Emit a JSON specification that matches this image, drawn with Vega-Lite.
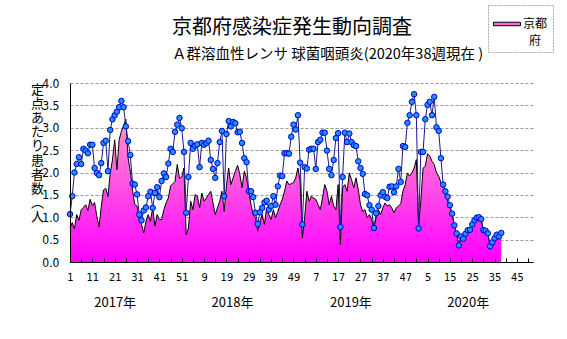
{
  "$schema": "https://vega.github.io/schema/vega-lite/v6.json",
  "width": 463,
  "height": 179,
  "padding": {"left": 70, "top": 83, "right": 34, "bottom": 77},
  "autosize": "none",
  "background": "white",
  "config": {
    "view": {"stroke": null},
    "style": {"guide-label": {"lineHeight": 17}},
    "legend": {"strokeDash": [2, 1], "strokeColor": "#aaaaaa"}
  },
  "title": {
    "text": "京都府感染症発生動向調査",
    "subtitle": "　Ａ群溶血性レンサ 球菌咽頭炎(2020年38週現在 )",
    "anchor": "start",
    "frame": "group",
    "dx": 102,
    "dy": 69,
    "font": "Noto Sans CJK JP",
    "fontSize": 20,
    "fontWeight": "normal",
    "color": "#000000",
    "subtitleFont": "Noto Sans CJK JP",
    "subtitleFontSize": 14.5,
    "subtitleColor": "#000000",
    "subtitlePadding": 10,
    "offset": 12
  },
  "data": {
    "values": [
      {"i":1,"a":0.76,"b":1.07},{"i":2,"a":0.88,"b":1.47},{"i":3,"a":0.74,"b":2.00},{"i":4,"a":1.06,"b":2.19},{"i":5,"a":0.93,"b":2.34},
      {"i":6,"a":1.17,"b":2.19},{"i":7,"a":1.22,"b":2.53},{"i":8,"a":1.28,"b":2.49},{"i":9,"a":1.15,"b":2.43},{"i":10,"a":1.40,"b":2.62},
      {"i":11,"a":1.26,"b":2.62},{"i":12,"a":1.33,"b":2.10},{"i":13,"a":1.02,"b":1.99},{"i":14,"a":0.79,"b":1.94},{"i":15,"a":1.24,"b":2.21},
      {"i":16,"a":1.61,"b":2.66},{"i":17,"a":1.65,"b":2.71},{"i":18,"a":1.46,"b":2.03},{"i":19,"a":1.99,"b":2.95},{"i":20,"a":2.28,"b":3.19},
      {"i":21,"a":2.73,"b":3.28},{"i":22,"a":2.06,"b":3.36},{"i":23,"a":2.73,"b":3.46},{"i":24,"a":2.92,"b":3.60},{"i":25,"a":3.05,"b":3.46},
      {"i":26,"a":3.19,"b":3.03},{"i":27,"a":2.33,"b":2.70},{"i":28,"a":2.03,"b":2.39},{"i":29,"a":1.60,"b":1.75},{"i":30,"a":1.28,"b":1.73},
      {"i":31,"a":1.25,"b":1.51},{"i":32,"a":0.95,"b":1.06},{"i":33,"a":0.84,"b":0.93},{"i":34,"a":0.65,"b":1.15},{"i":35,"a":0.91,"b":1.22},
      {"i":36,"a":1.06,"b":1.47},{"i":37,"a":0.91,"b":1.57},{"i":38,"a":1.21,"b":1.21},{"i":39,"a":0.80,"b":1.54},{"i":40,"a":1.06,"b":1.67},
      {"i":41,"a":0.95,"b":1.45},{"i":42,"a":0.95,"b":1.81},{"i":43,"a":1.17,"b":1.98},{"i":44,"a":1.32,"b":1.90},{"i":45,"a":1.43,"b":2.20},
      {"i":46,"a":1.70,"b":2.53},{"i":47,"a":1.75,"b":2.46},{"i":48,"a":1.80,"b":2.91},{"i":49,"a":2.18,"b":3.07},{"i":50,"a":1.87,"b":3.22},
      {"i":51,"a":1.90,"b":2.99},{"i":52,"a":2.10,"b":2.46},{"i":53,"a":0.61,"b":1.10},{"i":54,"a":0.76,"b":1.90},{"i":55,"a":1.36,"b":2.66},
      {"i":56,"a":1.17,"b":2.53},{"i":57,"a":1.51,"b":2.60},{"i":58,"a":1.47,"b":2.63},{"i":59,"a":1.21,"b":2.12},{"i":60,"a":1.54,"b":2.66},
      {"i":61,"a":1.36,"b":2.62},{"i":62,"a":1.43,"b":2.66},{"i":63,"a":1.51,"b":2.71},{"i":64,"a":1.58,"b":2.28},{"i":65,"a":1.32,"b":2.08},
      {"i":66,"a":1.06,"b":1.88},{"i":67,"a":1.21,"b":2.21},{"i":68,"a":1.36,"b":2.68},{"i":69,"a":1.58,"b":2.93},{"i":70,"a":1.13,"b":1.47},
      {"i":71,"a":1.70,"b":2.86},{"i":72,"a":2.10,"b":3.15},{"i":73,"a":1.73,"b":3.03},{"i":74,"a":1.88,"b":3.13},{"i":75,"a":2.03,"b":3.10},
      {"i":76,"a":2.16,"b":2.90},{"i":77,"a":1.96,"b":2.91},{"i":78,"a":1.66,"b":2.66},{"i":79,"a":2.03,"b":2.32},{"i":80,"a":1.88,"b":2.23},
      {"i":81,"a":1.58,"b":1.58},{"i":82,"a":1.28,"b":1.58},{"i":83,"a":1.06,"b":1.45},{"i":84,"a":0.99,"b":1.10},{"i":85,"a":0.69,"b":0.85},
      {"i":86,"a":0.91,"b":1.11},{"i":87,"a":1.06,"b":1.21},{"i":88,"a":0.84,"b":1.33},{"i":89,"a":1.21,"b":1.37},{"i":90,"a":1.06,"b":1.17},
      {"i":91,"a":0.95,"b":1.25},{"i":92,"a":1.17,"b":1.47},{"i":93,"a":0.99,"b":1.28},{"i":94,"a":1.13,"b":1.69},{"i":95,"a":1.28,"b":1.93},
      {"i":96,"a":1.40,"b":1.92},{"i":97,"a":1.58,"b":2.43},{"i":98,"a":1.81,"b":2.43},{"i":99,"a":1.73,"b":2.42},{"i":100,"a":1.75,"b":2.80},
      {"i":101,"a":1.77,"b":3.07},{"i":102,"a":1.88,"b":2.96},{"i":103,"a":2.10,"b":3.28},{"i":104,"a":1.81,"b":2.22},{"i":105,"a":0.54,"b":0.84},
      {"i":106,"a":0.99,"b":2.12},{"i":107,"a":1.58,"b":2.09},{"i":108,"a":1.36,"b":2.51},{"i":109,"a":1.47,"b":2.53},{"i":110,"a":1.43,"b":2.53},
      {"i":111,"a":1.40,"b":2.08},{"i":112,"a":1.28,"b":2.68},{"i":113,"a":1.17,"b":2.73},{"i":114,"a":1.43,"b":2.89},{"i":115,"a":1.73,"b":2.89},
      {"i":116,"a":1.58,"b":2.49},{"i":117,"a":1.28,"b":2.08},{"i":118,"a":1.47,"b":1.94},{"i":119,"a":1.25,"b":2.28},{"i":120,"a":1.17,"b":2.77},
      {"i":121,"a":1.73,"b":2.88},{"i":122,"a":0.39,"b":0.78},{"i":123,"a":1.66,"b":1.90},{"i":124,"a":1.73,"b":2.89},{"i":125,"a":1.58,"b":2.68},
      {"i":126,"a":1.99,"b":2.87},{"i":127,"a":1.84,"b":2.68},{"i":128,"a":1.66,"b":2.61},{"i":129,"a":1.88,"b":2.59},{"i":130,"a":1.62,"b":2.25},
      {"i":131,"a":1.28,"b":2.10},{"i":132,"a":1.13,"b":1.97},{"i":133,"a":1.17,"b":1.52},{"i":134,"a":0.99,"b":1.49},{"i":135,"a":1.06,"b":1.27},
      {"i":136,"a":0.95,"b":1.17},{"i":137,"a":0.76,"b":0.76},{"i":138,"a":0.99,"b":1.09},{"i":139,"a":1.17,"b":1.25},{"i":140,"a":1.06,"b":1.49},
      {"i":141,"a":1.21,"b":1.56},{"i":142,"a":1.32,"b":1.46},{"i":143,"a":1.25,"b":1.43},{"i":144,"a":1.28,"b":1.68},{"i":145,"a":1.21,"b":1.69},
      {"i":146,"a":1.10,"b":1.56},{"i":147,"a":1.21,"b":1.69},{"i":148,"a":1.25,"b":2.08},{"i":149,"a":1.30,"b":1.79},{"i":150,"a":1.58,"b":2.59},
      {"i":151,"a":1.73,"b":2.57},{"i":152,"a":1.99,"b":3.11},{"i":153,"a":1.92,"b":3.28},{"i":154,"a":1.99,"b":3.58},{"i":155,"a":2.10,"b":3.75},
      {"i":156,"a":2.29,"b":3.28},{"i":157,"a":0.80,"b":0.75},{"i":158,"a":1.36,"b":2.46},{"i":159,"a":2.10,"b":2.46},{"i":160,"a":2.14,"b":3.19},
      {"i":161,"a":2.42,"b":3.51},{"i":162,"a":2.37,"b":3.58},{"i":163,"a":2.25,"b":3.28},{"i":164,"a":2.18,"b":3.69},{"i":165,"a":1.99,"b":3.01},
      {"i":166,"a":1.92,"b":2.93},{"i":167,"a":1.77,"b":2.32},{"i":168,"a":1.73,"b":1.73},{"i":169,"a":1.58,"b":1.58},{"i":170,"a":1.35,"b":1.46},
      {"i":171,"a":1.25,"b":1.27},{"i":172,"a":1.08,"b":1.08},{"i":173,"a":0.82,"b":0.82},{"i":174,"a":0.64,"b":0.64},{"i":175,"a":0.37,"b":0.37},
      {"i":176,"a":0.57,"b":0.57},{"i":177,"a":0.52,"b":0.52},{"i":178,"a":0.63,"b":0.63},{"i":179,"a":0.71,"b":0.71},{"i":180,"a":0.72,"b":0.72},
      {"i":181,"a":0.84,"b":0.84},{"i":182,"a":0.93,"b":0.93},{"i":183,"a":0.99,"b":0.99},{"i":184,"a":1.00,"b":1.00},{"i":185,"a":0.96,"b":0.96},
      {"i":186,"a":0.71,"b":0.71},{"i":187,"a":0.70,"b":0.70},{"i":188,"a":0.64,"b":0.64},{"i":189,"a":0.35,"b":0.35},{"i":190,"a":0.44,"b":0.44},
      {"i":191,"a":0.53,"b":0.53},{"i":192,"a":0.61,"b":0.61},{"i":193,"a":0.57,"b":0.57},{"i":194,"a":0.65,"b":0.65}
    ]
  },
  "resolve": {"axis": {"x": "independent", "y": "independent"}},
  "layer": [
    {
      "mark": {"type": "point", "opacity": 0, "filled": true},
      "encoding": {
        "x": {
          "field": "i", "type": "quantitative",
          "scale": {"domain": [1, 208.2], "nice": false, "zero": false},
          "axis": {
            "orient": "bottom", "values": [21, 73.5, 126.5, 179],
            "labelExpr": "datum.value < 50 ? '2017年' : datum.value < 100 ? '2018年' : datum.value < 150 ? '2019年' : '2020年'",
            "domain": false, "ticks": false, "grid": false, "title": null,
            "labelFont": "Noto Sans CJK JP", "labelFontSize": 13, "labelColor": "#000000",
            "labelPadding": 34, "labelAngle": 0, "labelOverlap": false, "labelFlush": false, "zindex": 0
          }
        },
        "y": {
          "field": "a", "type": "quantitative",
          "scale": {"domain": [0, 4], "nice": false, "zero": true},
          "axis": {
            "orient": "left", "values": [0.5, 1, 1.5, 2, 2.5, 3, 3.5, 4],
            "grid": true, "gridColor": "#999999", "gridDash": [3, 2], "gridWidth": 1,
            "labels": false, "domain": false, "ticks": false, "title": null, "zindex": 0
          }
        },
        "fill": {
          "datum": "京都府", "type": "nominal",
          "scale": {"range": ["#ff66dd"]},
          "legend": {
            "orient": "none", "legendX": 418, "legendY": -78, "title": null,
            "symbolType": "M-1,-0.13H1V0.13H-1Z", "symbolSize": 729,
            "symbolStrokeColor": "#000000", "symbolStrokeWidth": 1, "symbolOpacity": 1,
            "labelExpr": "['京都', '府']", "labelFont": "Noto Sans CJK JP", "labelFontSize": 12,
            "labelColor": "#000000", "labelAlign": "center", "labelOffset": 14,
            "padding": 5, "fillColor": "white"
          }
        }
      }
    },
    {
      "mark": {
        "type": "area", "interpolate": "linear",
        "color": {"gradient": "linear", "x1": 0, "y1": 0, "x2": 0, "y2": 1, "stops": [{"offset": 0, "color": "#ff99cc"}, {"offset": 1, "color": "#ff00ff"}]}
      },
      "encoding": {
        "x": {
          "field": "i", "type": "quantitative",
          "axis": {
            "orient": "bottom",
            "values": [1,6,11,16,21,26,31,36,41,46,51,56,61,66,71,76,81,86,91,96,101,106,111,116,121,126,131,136,141,146,151,156,161,166,171,176,181,186,191,196,201,206],
            "labelExpr": "(datum.value - 1) % 10 == 0 ? '' + (datum.value <= 52 ? datum.value : datum.value <= 104 ? datum.value - 52 : datum.value <= 156 ? datum.value - 104 : datum.value - 156) : ''",
            "grid": false, "title": null, "domainColor": "#000000", "domainWidth": 1,
            "tickColor": "#000000", "tickSize": -4, "tickWidth": 1,
            "labelFont": "Liberation Sans Narrow, DejaVu Sans Condensed, sans-serif", "labelFontSize": 11,
            "labelColor": "#000000", "labelPadding": 13, "labelAngle": 0, "labelOverlap": false, "labelFlush": false,
            "zindex": 1
          }
        },
        "y": {
          "field": "a", "type": "quantitative",
          "axis": {
            "orient": "left", "values": [0, 0.5, 1, 1.5, 2, 2.5, 3, 3.5, 4], "format": ".1f",
            "grid": false, "ticks": false, "domainColor": "#000000", "domainWidth": 1,
            "labelFont": "Liberation Sans Narrow, DejaVu Sans Condensed, sans-serif", "labelFontSize": 12,
            "labelColor": "#000000", "labelPadding": 11,
            "title": ["定", "点", "あ", "た", "り", "患", "者", "数", "︵", "人"],
            "titleAngle": 0, "titleAlign": "center", "titleBaseline": "top",
            "titleX": -33, "titleY": 0, "titleFont": "Noto Sans CJK JP", "titleFontSize": 13,
            "titleFontWeight": "normal", "titleLineHeight": 14.2, "titleColor": "#000000",
            "zindex": 1
          }
        }
      }
    },
    {
      "mark": {"type": "line", "color": "#000000", "strokeWidth": 1},
      "encoding": {
        "x": {"field": "i", "type": "quantitative", "axis": null},
        "y": {"field": "a", "type": "quantitative", "axis": null}
      }
    },
    {
      "mark": {
        "type": "line", "color": "#1a1a8c", "strokeWidth": 1,
        "point": {"filled": true, "fill": "#1e90ff", "stroke": "#0000cc", "strokeWidth": 1, "size": 30, "opacity": 1}
      },
      "encoding": {
        "x": {"field": "i", "type": "quantitative", "axis": null},
        "y": {"field": "b", "type": "quantitative", "axis": null}
      }
    }
  ]
}
